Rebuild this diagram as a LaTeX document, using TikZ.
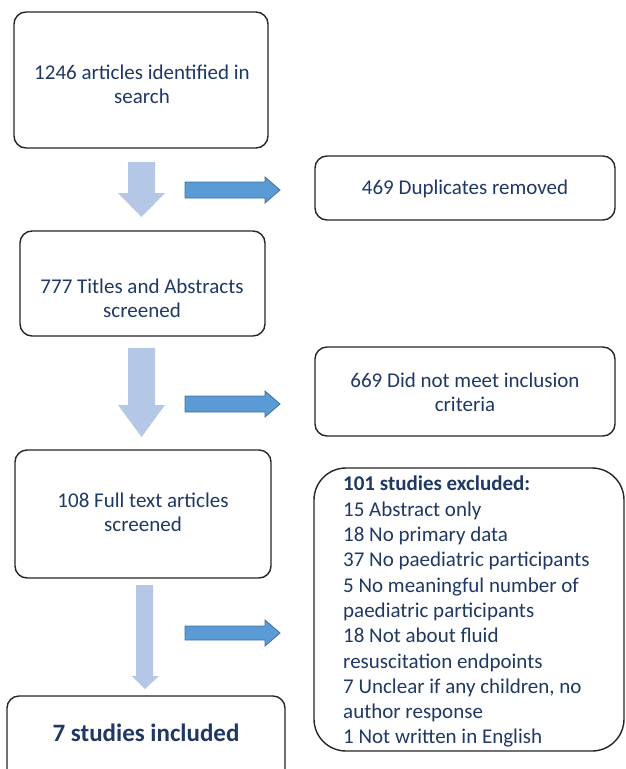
\documentclass[tikz,border=0pt]{standalone}
\usepackage{fontspec}
\setmainfont{Carlito}
\definecolor{navy}{HTML}{1F3864}
\definecolor{lightarrow}{HTML}{B4C7E7}
\definecolor{midarrow}{HTML}{5B9BD5}
\definecolor{midedge}{HTML}{41719C}
\begin{document}
\begin{tikzpicture}[x=1pt,y=-1pt,
  box/.style={draw=black!85,line width=1.4pt,rounded corners=12pt,fill=white},
  txt/.style={text=navy,font=\fontsize{21}{24}\selectfont,align=center,inner sep=0pt},
  listtxt/.style={text=navy,font=\fontsize{21}{25.3}\selectfont,align=left,inner sep=0pt},
  downarr/.style={fill=lightarrow,draw=none},
  rightarr/.style={fill=midarrow,draw=midedge,line width=0.8pt}]
\useasboundingbox (0,0) rectangle (625,769);
\clip (0,0) rectangle (625,769);
% boxes
\draw[box] (14,12) rectangle (268,148);
\node[txt] (t1) at (142,84) {1246 articles identified in\\search};
\draw[box] (315,156) rectangle (615,220);
\node[txt] (t2) at (465,189) {469 Duplicates removed};
\draw[box] (20,231) rectangle (265,336);
\node[txt] (t3) at (142,298) {777 Titles and Abstracts\\screened};
\draw[box] (315,347) rectangle (615,436);
\node[txt] (t4) at (465,392) {669 Did not meet inclusion\\criteria};
\draw[box] (15,450) rectangle (271,578);
\node[txt] (t5) at (143,512) {108 Full text articles\\screened};
\draw[box,rounded corners=32pt] (314,468) rectangle (624,751);
\node[listtxt,anchor=north west] (t6) at (343,476) {\textbf{101 studies excluded:}\\15 Abstract only\\18 No primary data\\37 No paediatric participants\\5 No meaningful number of\\paediatric participants\\18 Not about fluid\\resuscitation endpoints\\7 Unclear if any children, no\\author response\\1 Not written in English};
\draw[box] (7,696) rectangle (285,790);
\node[txt,font=\bfseries\fontsize{25}{28}\selectfont] (t7) at (146,733) {7 studies included};
% down arrows
\fill[downarr] (128,162) -- (155,162) -- (155,193) -- (165,193) -- (141.5,217) -- (118,193) -- (128,193) -- cycle;
\fill[downarr] (128,348) -- (155,348) -- (155,405) -- (165,405) -- (141.5,437) -- (118,405) -- (128,405) -- cycle;
\fill[downarr] (136,585) -- (153,585) -- (153,676) -- (159,676) -- (145,689) -- (132,676) -- (136,676) -- cycle;
% right arrows
\draw[rightarr] (185,182) -- (265,182) -- (265,177) -- (280,190) -- (265,203) -- (265,198) -- (185,198) -- cycle;
\draw[rightarr] (185,396) -- (265,396) -- (265,391) -- (280,404) -- (265,417) -- (265,412) -- (185,412) -- cycle;
\draw[rightarr] (185,626) -- (265,626) -- (265,620) -- (280,633) -- (265,646) -- (265,640) -- (185,640) -- cycle;
\end{tikzpicture}
\end{document}
